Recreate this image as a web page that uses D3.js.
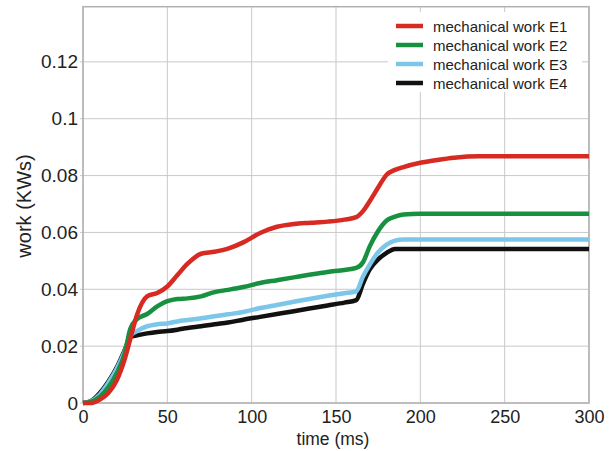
<!DOCTYPE html>
<html lang="en">
  <head>
    <meta charset="utf-8">
    <title>mechanical work</title>
    <script type="text/javascript" src="https://d3js.org/d3.v7.min.js"></script>
    <style type="text/css">
      body { margin: 0; background: #fff; }
      text { font-family: "Liberation Sans", Arial, sans-serif; fill: #222; }
    </style>
  </head>
  <body>
    <svg id="chart" width="613" height="451"></svg>
    <script type="text/javascript">

      // time axis (ms), shared by all series
      var time = [0, 5, 10, 15, 20, 25, 28, 32, 38, 44, 50, 56, 62, 70, 78, 86, 95, 105, 115, 125, 135, 145, 155, 162, 166, 170, 175, 180, 185, 190, 200, 210, 220, 235, 250, 300];

      // mechanical work (KWs)
      var workE1 = [0, 0, 0.0012, 0.0035, 0.008, 0.016, 0.0225, 0.031, 0.0375, 0.0387, 0.041, 0.045, 0.049, 0.0525, 0.0532, 0.0543, 0.0565, 0.0598, 0.062, 0.063, 0.0634, 0.0638, 0.0645, 0.0654, 0.0675, 0.071, 0.0758, 0.0803, 0.082, 0.083, 0.0845, 0.0855, 0.0863, 0.0868, 0.0868, 0.0868];
      var workE2 = [0, 0.0005, 0.0022, 0.0055, 0.0105, 0.018, 0.026, 0.0295, 0.0313, 0.034, 0.0358, 0.0366, 0.0368, 0.0375, 0.039, 0.0398, 0.0408, 0.0422, 0.0432, 0.0442, 0.0452, 0.0461, 0.0468, 0.0475, 0.0495, 0.0551, 0.0605, 0.0642, 0.0656, 0.0663, 0.0666, 0.0666, 0.0666, 0.0666, 0.0666, 0.0666];
      var workE3 = [0, 0.0007, 0.003, 0.007, 0.012, 0.0185, 0.0235, 0.0253, 0.027, 0.0277, 0.028, 0.0287, 0.0292, 0.0298, 0.0305, 0.0312, 0.032, 0.0334, 0.0345, 0.0356, 0.0367, 0.0377, 0.0386, 0.0393, 0.0445, 0.0487, 0.053, 0.0557, 0.0571, 0.0575, 0.0575, 0.0575, 0.0575, 0.0575, 0.0575, 0.0575];
      var workE4 = [0, 0.0008, 0.0035, 0.0075, 0.0125, 0.019, 0.0232, 0.0238, 0.0245, 0.025, 0.0253, 0.0258, 0.0264, 0.027, 0.0277, 0.0283, 0.0293, 0.0303, 0.0313, 0.0323, 0.0333, 0.0343, 0.0353, 0.0362, 0.042, 0.047, 0.0505, 0.0528, 0.0542, 0.0542, 0.0542, 0.0542, 0.0542, 0.0542, 0.0542, 0.0542];

      var seriesNames = ["mechanical work E1", "mechanical work E2", "mechanical work E3", "mechanical work E4"];
      var seriesColors = ["#d62a22", "#17913f", "#7cc6ea", "#111111"];

      var xTicks = [0, 50, 100, 150, 200, 250, 300];
      var yTicks = [0, 0.02, 0.04, 0.06, 0.08, 0.1, 0.12];

      var series = [workE1, workE2, workE3, workE4].map(function(vals, i) {
        return {
          name: seriesNames[i],
          color: seriesColors[i],
          values: vals.map(function(v, j) { return {t: time[j], v: v}; })
        };
      });

      var svg = d3.select("#chart");

      var x = d3.scaleLinear().domain([0, 300]).range([83, 589]);
      var y = d3.scaleLinear().domain([0, 0.14]).range([403, 5]);
      var yTop = 0.1394;

      // grid
      var grid = svg.append("g");
      grid.selectAll(".vgrid")
          .data(xTicks)
          .enter()
          .append("line")
          .attr("x1", function(d) { return x(d); })
          .attr("x2", function(d) { return x(d); })
          .attr("y1", y(yTop))
          .attr("y2", y(0))
          .attr("stroke", "#c9c9c9");
      grid.selectAll(".hgrid")
          .data(yTicks)
          .enter()
          .append("line")
          .attr("x1", x(0) - 3)
          .attr("x2", x(300))
          .attr("y1", function(d) { return y(d); })
          .attr("y2", function(d) { return y(d); })
          .attr("stroke", "#c9c9c9");

      // plot frame
      svg.append("rect")
          .attr("x", x(0))
          .attr("y", y(yTop))
          .attr("width", x(300) - x(0))
          .attr("height", y(0) - y(yTop))
          .attr("fill", "none")
          .attr("stroke", "#b0b0b0")
          .attr("stroke-width", 1.5);

      // axes (labels only, lines drawn by grid + frame)
      var xAxis = svg.append("g")
          .attr("transform", "translate(0," + y(0) + ")")
          .call(d3.axisBottom(x).tickValues(xTicks).tickSize(0).tickPadding(7).tickFormat(d3.format("d")));
      xAxis.select(".domain").remove();
      xAxis.selectAll("text").style("font-size", "18px").attr("fill", "#222");

      var yAxis = svg.append("g")
          .attr("transform", "translate(" + x(0) + ",0)")
          .call(d3.axisLeft(y).tickValues(yTicks).tickSize(0).tickPadding(5).tickFormat(function(d) { return d === 0 ? "0" : d3.format("")(+d.toFixed(2)); }));
      yAxis.select(".domain").remove();
      yAxis.selectAll("text").style("font-size", "19px").attr("fill", "#222");

      svg.append("text")
          .attr("x", 333)
          .attr("y", 445)
          .attr("text-anchor", "middle")
          .style("font-size", "17.5px")
          .text("time (ms)");

      svg.append("text")
          .attr("transform", "translate(31,206) rotate(-90)")
          .attr("text-anchor", "middle")
          .style("font-size", "20px")
          .text("work (KWs)");

      // lines
      var line = d3.line()
          .x(function(d) { return x(d.t); })
          .y(function(d) { return y(d.v); })
          .curve(d3.curveMonotoneX);

      svg.append("g")
          .selectAll("path")
          .data(series.slice().reverse())
          .enter()
          .append("path")
          .attr("d", function(d) { return line(d.values); })
          .attr("fill", "none")
          .attr("stroke", function(d) { return d.color; })
          .attr("stroke-width", 4.5)
          .attr("stroke-linejoin", "round");

      // legend
      var legend = svg.append("g");
      legend.append("rect")
          .attr("x", 388)
          .attr("y", 12)
          .attr("width", 194)
          .attr("height", 80)
          .attr("fill", "#fff");

      var rows = legend.selectAll(".row")
          .data(series)
          .enter()
          .append("g")
          .attr("transform", function(d, i) { return "translate(0," + (26 + i * 19) + ")"; });
      rows.append("line")
          .attr("x1", 396)
          .attr("x2", 423)
          .attr("stroke", function(d) { return d.color; })
          .attr("stroke-width", 4.5);
      rows.append("text")
          .attr("x", 433)
          .attr("y", 5.5)
          .style("font-size", "15px")
          .text(function(d) { return d.name; });

    </script>
  </body>
</html>
